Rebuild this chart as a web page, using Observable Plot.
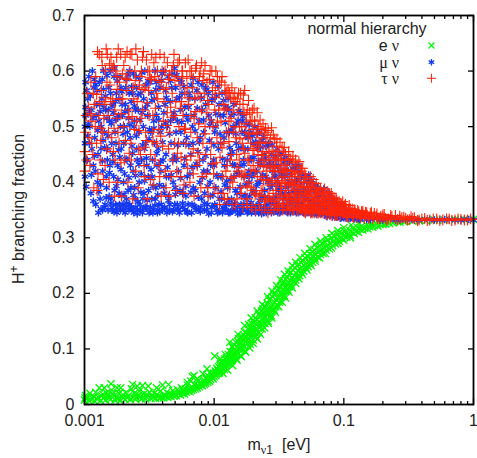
<!DOCTYPE html>
<html><head><meta charset="utf-8">
<style>html,body{margin:0;padding:0;background:#fff}svg{display:block}</style>
<script src="https://cdn.jsdelivr.net/npm/d3@7"></script>
<script src="https://cdn.jsdelivr.net/npm/@observablehq/plot@0.6"></script>
</head><body><div id="c"></div>
<script>
const majorX=[0.001,0.01,0.1,1];
const minorX=[.002,.003,.004,.005,.006,.007,.008,.009,.02,.03,.04,.05,.06,.07,.08,.09,.2,.3,.4,.5,.6,.7,.8,.9];
const yTicks=[0,.1,.2,.3,.4,.5,.6,.7];
const legendNames=["e ν","μ ν","τ ν"];
const legendY=[.646,.616,.587];
const legendX=.474;
const colors=["#00f800","#1438f0","#ff2408"];
const ePoints=[[.001,.008],[.00102,.016],[.00105,.012],[.0011,.02],[.00112,.009],[.00118,.014],[.00122,.022],[.00125,.01],[.0013,.03],[.00135,.016],[.0014,.011],[.00142,.03],[.00148,.021],[.00155,.012],[.0016,.037],[.00162,.026],[.0017,.016],[.00175,.012],[.00178,.03],[.00185,.02],[.0019,.03],[.00195,.014],[.002,.012],[.0021,.022],[.00218,.015],[.0023,.028],[.00235,.036],[.00242,.02],[.0025,.013],[.00255,.033],[.00265,.024],[.0027,.014],[.0028,.034],[.0029,.02],[.003,.014],[.0031,.033],[.00318,.022],[.0033,.016],[.00345,.02],[.0036,.03],[.00372,.015],[.00385,.024],[.004,.035],[.00415,.017],[.0043,.022],[.00445,.036],[.00455,.016],[.0048,.025],[.005,.018],[.0052,.027],[.0054,.021],[.0056,.03],[.0058,.024],[.006,.028],[.0062,.035],[.0064,.027],[.0066,.042],[.0068,.031],[.007,.052],[.0071,.036],[.0073,.032],[.0076,.044],[.0078,.038],[.008,.037],[.0082,.055],[.0085,.042],[.0088,.048],[.009,.043],[.0093,.058],[.0096,.05],[.0098,.046],[.0101,.087],[.0103,.052],[.0106,.062],[.011,.057],[.0112,.073],[.0115,.065],[.0118,.07],[.012,.063],[.0122,.076],[.0125,.072],[.0128,.08],[.013,.074],[.0132,.112],[.0134,.086],[.0136,.078],[.0138,.094],[.014,.084],[.0143,.098],[.0145,.09],[.0148,.082],[.015,.104],[.0153,.092],[.0155,.118],[.0158,.1],[.016,.088],[.0163,.113],[.0165,.098],[.0168,.125],[.017,.104],[.0173,.096],[.0176,.122],[.018,.11],[.0183,.136],[.0186,.118],[.019,.108],[.0193,.138],[.0196,.126],[.02,.116],[.0203,.148],[.0206,.13],[.021,.122],[.0214,.152],[.0218,.14],[.0222,.13],[.0226,.16],[.023,.146],[.0234,.136],[.0238,.172],[.0242,.158],[.0246,.146],[.025,.176],[.0255,.162],[.026,.15],[.0265,.188],[.027,.172],[.0275,.16],[.028,.194],[.0285,.18],[.029,.17],[.0296,.2],[.0302,.188],[.0308,.178],[.0315,.208],[.032,.196],[.0328,.186],[.0335,.218],[.034,.205],[.0348,.196],[.0355,.226],[.0362,.214],[.037,.206],[.0378,.234],[.0386,.224],[.0395,.215],[.0405,.242],[.0415,.232],[.0425,.224],[.0435,.25],[.0445,.24],[.0455,.232],[.0465,.256],[.0478,.247],[.049,.24],[.05,.264],[.0515,.255],[.053,.248],[.0545,.271],[.056,.262],[.0575,.256],[.059,.278],[.061,.27],[.063,.265],[.065,.285],[.067,.278],[.069,.272],[.072,.292],[.074,.285],[.077,.28],[.08,.3],[.083,.293],[.086,.289],[.09,.306],[.094,.3],[.098,.297],[.102,.311],[.107,.306],[.112,.304],[.118,.317],[.124,.312],[.13,.31],[.137,.321],[.145,.317],[.153,.316],[.162,.325],[.172,.322],[.183,.321],[.195,.327],[.21,.325],[.225,.326],[.245,.329],[.27,.328],[.3,.33],[.34,.33],[.38,.331],[.43,.331],[.5,.332],[.6,.332],[.72,.333],[.85,.333],[1,.333]];
const eExtra=[[.00101,.012],[.00108,.007],[.00115,.011],[.0012,.006],[.00128,.013],[.00133,.007],[.00139,.018],[.00145,.008],[.00152,.016],[.00158,.009],[.00165,.019],[.00172,.008],[.00182,.011],[.00188,.007],[.00198,.018],[.00205,.009],[.00213,.012],[.00225,.009],[.00238,.013],[.00248,.009],[.0026,.017],[.00275,.01],[.00285,.013],[.00295,.01],[.00305,.018],[.00325,.011],[.00338,.013],[.00352,.011],[.00365,.018],[.00378,.012],[.00392,.013],[.00408,.012],[.00422,.016],[.00438,.013],[.00448,.019],[.00465,.014],[.00475,.018],[.0049,.015],[.0051,.016],[.0053,.019],[.0055,.017],[.0057,.02],[.0059,.019],[.0061,.022],[.0063,.024],[.0065,.023],[.0067,.026],[.0069,.027],[.0072,.028],[.0074,.03],[.0075,.034],[.0077,.032],[.0079,.035],[.0081,.034],[.0083,.04],[.0084,.036],[.0086,.038],[.0087,.046],[.0089,.04],[.0091,.05],[.0092,.042],[.0094,.045],[.0095,.054],[.0097,.048],[.0099,.056],[.01,.05],[.0102,.06],[.0104,.055],[.0105,.065],[.0107,.056],[.0108,.068],[.0109,.06],[.0111,.07],[.0113,.062],[.0114,.077],[.0116,.064],[.0117,.074],[.0119,.068],[.0121,.082],[.0123,.07],[.0124,.085],[.0127,.074],[.0129,.09],[.0131,.08],[.0133,.095],[.0135,.082],[.0137,.088],[.0139,.104],[.0141,.09],[.0142,.108],[.0144,.094],[.0147,.112],[.0149,.096],[.0152,.114],[.0154,.1],[.0157,.11],[.0159,.12],[.0161,.104],[.0164,.122],[.0166,.108],[.0169,.116],[.0172,.13],[.0174,.112],[.0177,.13],[.0179,.116],[.0181,.126],[.0184,.144],[.0188,.128],[.0191,.124],[.0194,.146],[.0198,.132],[.0201,.138],[.0204,.124],[.0208,.156],[.0212,.136],[.0216,.146],[.022,.162],[.0224,.148],[.0228,.14],[.0232,.168],[.0236,.15],[.024,.164],[.0244,.176],[.0248,.158],[.0252,.152],[.0257,.182],[.0262,.166],[.0268,.158],[.0272,.19],[.0278,.178],[.0283,.17],[.0288,.198],[.0293,.184],[.0299,.176],[.0305,.206],[.0311,.192],[.0318,.184],[.0325,.212],[.0331,.2],[.0338,.194],[.0344,.222],[.0352,.21],[.0358,.204],[.0366,.228],[.0374,.218],[.0382,.212],[.039,.238],[.04,.228],[.041,.222],[.042,.246],[.043,.236],[.044,.23],[.045,.252],[.046,.244],[.047,.238],[.048,.258],[.0495,.25],[.051,.246],[.0525,.266],[.054,.258],[.055,.254],[.057,.274],[.058,.268],[.06,.262],[.062,.282],[.064,.275],[.066,.27],[.068,.29],[.07,.282],[.073,.278],[.075,.296],[.078,.29],[.082,.286],[.085,.303],[.088,.297],[.092,.294],[.096,.308],[.1,.304],[.105,.301],[.11,.314],[.115,.31],[.12,.308],[.127,.319],[.134,.315],[.14,.314],[.15,.323],[.158,.32],[.167,.319],[.178,.326],[.19,.324],[.2,.324],[.22,.328],[.24,.327],[.26,.329],[.29,.329]];
const eEdge=[[.0117,.056],[.0127,.062],[.0139,.07],[.015,.08],[.0162,.086],[.0175,.094],[.0188,.102],[.02,.11],[.0215,.118],[.0228,.126],[.0245,.138],[.0262,.146],[.0278,.156],[.0296,.166],[.0315,.176],[.0335,.184],[.0355,.192],[.0378,.202],[.04,.21],[.0425,.218],[.045,.226],[.048,.234],[.052,.242],[.056,.25],[.06,.258],[.065,.264],[.072,.272],[.08,.282],[.09,.29],[.1,.296],[.112,.3],[.0153,.126],[.0172,.142],[.0193,.156],[.0215,.168],[.0235,.18],[.0258,.194],[.028,.204],[.0303,.214],[.0326,.224],[.035,.234],[.0372,.24],[.04,.25],[.0425,.256],[.046,.264],[.05,.272],[.055,.28],[.06,.288],[.066,.294],[.073,.3],[.081,.308],[.09,.313],[.1,.318],[.114,.323],[.13,.326],[.0112,.082],[.0122,.09],[.0137,.104],[.0074,.046],[.0062,.04],[.0068,.05],[.0088,.064]];
const muPoints=[[.00101,.41],[.00101,.47],[.00102,.52],[.00102,.58],[.00105,.44],[.00106,.55],[.00108,.59],[.0011,.5],[.00112,.38],[.00113,.53],[.00115,.6],[.00117,.43],[.00118,.57],[.0012,.48],[.00122,.36],[.00124,.54],[.00126,.4],[.00128,.345],[.00129,.51],[.0013,.58],[.00132,.37],[.00134,.46],[.00136,.55],[.00138,.35],[.00138,.42],[.0014,.6],[.00142,.49],[.00144,.36],[.00146,.53],[.00148,.39],[.0015,.44],[.00152,.35],[.00154,.57],[.00156,.51],[.00158,.6],[.0016,.37],[.00162,.47],[.00164,.35],[.00166,.54],[.00168,.41],[.0017,.605],[.00172,.49],[.00174,.36],[.00176,.56],[.00178,.345],[.0018,.43],[.00183,.52],[.00185,.38],[.00188,.59],[.0019,.35],[.00192,.46],[.00195,.54],[.00198,.36],[.002,.4],[.00203,.5],[.00206,.345],[.00208,.57],[.0021,.37],[.00213,.44],[.00216,.53],[.0022,.35],[.00222,.6],[.00225,.48],[.00228,.39],[.0023,.355],[.00234,.56],[.00237,.42],[.0024,.345],[.00243,.51],[.00246,.37],[.0025,.59],[.00253,.46],[.00256,.35],[.0026,.53],[.00264,.4],[.00268,.36],[.00272,.56],[.00276,.44],[.0028,.345],[.00284,.5],[.00288,.38],[.00292,.6],[.00296,.47],[.003,.355],[.00305,.54],[.0031,.41],[.00315,.345],[.0032,.58],[.00325,.49],[.0033,.37],[.00335,.44],[.0034,.35],[.00345,.55],[.0035,.6],[.00355,.39],[.0036,.52],[.00365,.345],[.0037,.46],[.00376,.36],[.00382,.57],[.00388,.42],[.00394,.5],[.004,.35],[.00406,.6],[.00412,.38],[.00418,.54],[.00425,.45],[.00432,.345],[.0044,.59],[.00447,.41],[.00455,.36],[.00462,.51],[.0047,.57],[.00478,.44],[.00486,.35],[.00494,.605],[.005,.39],[.00508,.49],[.00515,.55],[.0052,.36],[.0053,.42],[.0054,.345],[.0055,.53],[.0056,.58],[.0057,.38],[.0058,.47],[.00595,.35],[.0061,.52],[.0062,.41],[.0063,.36],[.0064,.56],[.0066,.45],[.0067,.345],[.0068,.5],[.0069,.39],[.0071,.55],[.0072,.355],[.0074,.43],[.0075,.58],[.0076,.35],[.0078,.48],[.008,.37],[.0081,.53],[.0083,.42],[.0084,.35],[.0086,.57],[.0088,.46],[.0089,.36],[.0091,.52],[.0093,.4],[.0095,.345],[.0097,.55],[.0099,.44],[.0101,.36],[.0103,.5],[.0105,.35],[.0107,.41],[.0109,.54],[.0112,.47],[.0114,.37],[.0116,.345],[.0118,.52],[.012,.43],[.0123,.35],[.0125,.49],[.0127,.39],[.013,.53],[.0132,.345],[.0134,.45],[.0137,.36],[.014,.5],[.0142,.41],[.0145,.35],[.0148,.47],[.015,.38],[.0153,.51],[.0156,.345],[.0158,.43],[.0161,.36],[.0164,.49],[.0167,.35],[.017,.41],[.0173,.46],[.0176,.37],[.018,.345],[.0183,.48],[.0186,.4],[.019,.36],[.0193,.44],[.0197,.35],[.02,.47],[.0204,.38],[.0208,.345],[.0212,.42],[.0216,.46],[.022,.36],[.0224,.4],[.0228,.35],[.0232,.44],[.0236,.37],[.024,.345],[.0245,.45],[.025,.41],[.0255,.36],[.026,.35],[.0265,.43],[.027,.39],[.0276,.345],[.0282,.42],[.0288,.37],[.0294,.35],[.03,.44],[.0307,.4],[.0314,.36],[.032,.345],[.0328,.42],[.0336,.38],[.0344,.35],[.0352,.41],[.036,.37],[.037,.345],[.038,.4],[.039,.36],[.04,.35],[.041,.395],[.042,.37],[.043,.345],[.044,.385],[.045,.36],[.046,.35],[.047,.38],[.049,.345],[.05,.375],[.052,.355],[.054,.37],[.056,.343],[.058,.365],[.06,.35],[.062,.342],[.065,.36],[.068,.345],[.071,.355],[.074,.34],[.078,.35],[.082,.342],[.086,.347],[.09,.338],[.095,.344],[.1,.336],[.105,.341],[.112,.335],[.12,.339],[.13,.334],[.14,.337],[.15,.333],[.17,.335],[.19,.332],[.21,.334],[.25,.332],[.3,.333],[.35,.332],[.42,.333],[.5,.332],[.6,.333],[.72,.332],[.85,.333],[1,.332]];
const muExtra=[[.00101,.5],[.00102,.535],[.00103,.44],[.00104,.565],[.00107,.505],[.00109,.47],[.00111,.555],[.00114,.46],[.00116,.515],[.00119,.585],[.00121,.42],[.00123,.52],[.00125,.565],[.00127,.45],[.00131,.54],[.00133,.395],[.00135,.5],[.00137,.585],[.00139,.475],[.00141,.535],[.00143,.355],[.00145,.555],[.00147,.41],[.00149,.515],[.00151,.46],[.00153,.53],[.00155,.375],[.00157,.43],[.00159,.56],[.00161,.505],[.00163,.355],[.00165,.45],[.00167,.525],[.00169,.59],[.00171,.385],[.00173,.545],[.00175,.47],[.00177,.35],[.00179,.515],[.00181,.405],[.00184,.55],[.00186,.36],[.00187,.445],[.00189,.5],[.00191,.57],[.00193,.375],[.00196,.52],[.00199,.35],[.00201,.47],[.00204,.415],[.00207,.54],[.00209,.355],[.00211,.585],[.00214,.49],[.00217,.385],[.00219,.515],[.00221,.56],[.00223,.36],[.00226,.43],[.00229,.545],[.00232,.465],[.00235,.35],[.00238,.595],[.00241,.5],[.00244,.39],[.00247,.53],[.00249,.355],[.00252,.57],[.00255,.44],[.00258,.365],[.00262,.49],[.00266,.585],[.0027,.35],[.00274,.415],[.00278,.525],[.00282,.37],[.00286,.55],[.0029,.46],[.00294,.355],[.00298,.575],[.00302,.43],[.00307,.52],[.00312,.385],[.00317,.495],[.00322,.355],[.00327,.56],[.00332,.41],[.00337,.345],[.00342,.51],[.00348,.47],[.00352,.37],[.00358,.58],[.00362,.43],[.00368,.35],[.00373,.535],[.00379,.395],[.00385,.49],[.00391,.36],[.00397,.595],[.00403,.44],[.00409,.525],[.00415,.355],[.00422,.565],[.00428,.41],[.00435,.5],[.00443,.375],[.0045,.35],[.00458,.545],[.00465,.47],[.00473,.595],[.00482,.4],[.0049,.525],[.00497,.36],[.00505,.57],[.00512,.44],[.0052,.51],[.00527,.35],[.00535,.585],[.00545,.385],[.00553,.49],[.00565,.56],[.00575,.355],[.00585,.43],[.00592,.535],[.00605,.375],[.00615,.48],[.00625,.345],[.00635,.535],[.0065,.415],[.00665,.575],[.00675,.36],[.00685,.47],[.007,.52],[.00715,.385],[.00725,.35],[.00735,.565],[.0075,.455],[.00765,.51],[.00775,.4],[.0079,.355],[.00805,.575],[.0082,.44],[.0083,.49],[.00845,.38],[.0086,.54],[.00875,.35],[.0089,.42],[.00905,.56],[.0092,.475],[.00935,.375],[.0095,.51],[.0096,.355],[.0098,.58],[.01,.43],[.0101,.49],[.0103,.39],[.0104,.555],[.0106,.345],[.0108,.46],[.011,.37],[.0111,.52],[.0113,.41],[.0115,.56],[.0117,.355],[.0119,.48],[.0121,.395],[.0122,.535],[.0124,.36],[.0126,.44],[.0128,.55],[.0129,.345],[.0131,.49],[.0133,.405],[.0135,.52],[.0136,.37],[.0138,.455],[.014,.35],[.0142,.54],[.0144,.43],[.0146,.385],[.0149,.505],[.0151,.355],[.0154,.46],[.0156,.415],[.0159,.525],[.016,.345],[.0163,.375],[.0165,.51],[.0168,.44],[.017,.36],[.0172,.49],[.0175,.395],[.0178,.505],[.018,.35],[.0182,.46],[.0185,.42],[.0188,.375],[.0191,.49],[.0194,.345],[.0196,.41],[.02,.385],[.0203,.445],[.0206,.5],[.021,.355],[.0213,.47],[.0217,.4],[.022,.345],[.0223,.49],[.0227,.43],[.023,.375],[.0234,.475],[.0238,.41],[.0241,.355],[.0245,.385],[.0248,.465],[.0252,.345],[.0256,.43],[.026,.4],[.0263,.47],[.0268,.37],[.0272,.35],[.0276,.45],[.028,.395],[.0285,.43],[.029,.36],[.0295,.41],[.03,.375],[.0305,.46],[.031,.345],[.0314,.43],[.0318,.39],[.0323,.355],[.033,.45],[.0334,.41],[.0338,.37],[.0344,.435],[.035,.35],[.0354,.39],[.0358,.445],[.0364,.36],[.037,.415],[.0376,.38],[.0382,.435],[.0388,.345],[.0394,.4],[.04,.37],[.0405,.425],[.0412,.35],[.0418,.385],[.0424,.43],[.043,.365],[.0436,.405],[.0444,.345],[.045,.42],[.0456,.38],[.0462,.36],[.047,.41],[.048,.347],[.049,.39],[.05,.37],[.051,.41],[.052,.345],[.053,.385],[.054,.355],[.055,.4],[.056,.365],[.057,.345],[.058,.385],[.06,.36],[.061,.395],[.062,.35],[.064,.375],[.065,.345],[.067,.385],[.069,.355],[.07,.37],[.072,.345],[.074,.375],[.076,.352],[.078,.34],[.08,.365],[.083,.35],[.086,.338],[.089,.36],[.092,.345],[.096,.336],[.1,.352],[.104,.343],[.109,.335],[.114,.347],[.12,.334],[.126,.342],[.133,.333],[.14,.343],[.15,.339],[.16,.333],[.18,.337],[.2,.332],[.23,.335],[.27,.332],[.33,.334],[.38,.332],[.46,.333],[.55,.332],[.65,.333],[.8,.332],[.92,.333]];
const muFill=[[.00103,.392],[.00106,.483],[.00109,.527],[.00113,.413],[.00117,.366],[.00119,.447],[.00122,.576],[.00126,.493],[.00129,.383],[.00132,.527],[.00134,.352],[.00137,.438],[.0014,.567],[.00143,.462],[.00147,.372],[.00149,.592],[.00152,.483],[.00156,.417],[.00159,.362],[.00163,.537],[.00166,.437],[.00169,.347],[.00173,.513],[.00176,.393],[.00179,.582],[.00183,.458],[.00187,.357],[.00191,.423],[.00194,.563],[.00198,.487],[.00202,.378],[.00205,.527],[.00209,.442],[.00212,.362],[.00216,.593],[.0022,.408],[.00224,.503],[.00228,.352],[.00231,.572],[.00235,.452],[.00239,.377],[.00243,.537],[.00247,.412],[.00251,.483],[.00255,.343],[.00259,.557],[.00263,.432],[.00268,.512],[.00272,.382],[.00277,.597],[.00281,.467],[.00286,.353],[.0029,.402],[.00295,.533],[.003,.443],[.00305,.367],[.0031,.582],[.00315,.478],[.0032,.347],[.00326,.423],[.00331,.547],[.00337,.393],[.00343,.497],[.00349,.358],[.00355,.567],[.00361,.452],[.00367,.377],[.00373,.512],[.0038,.347],[.00387,.437],[.00393,.583],[.004,.472],[.00407,.392],[.00414,.352],[.00421,.507],[.00428,.552],[.00436,.427],[.00444,.367],[.00452,.487],[.0046,.582],[.00468,.413],[.00477,.347],[.00485,.517],[.00494,.447],[.00503,.378],[.00512,.593],[.00522,.467],[.00531,.352],[.00541,.553],[.00551,.407],[.00561,.508],[.00572,.362],[.00582,.572],[.00593,.443],[.00604,.393],[.00615,.347],[.00627,.512],[.00638,.467],[.0065,.552],[.00662,.382],[.00675,.427],[.00687,.587],[.007,.357],[.00713,.492],[.00726,.433],[.0074,.533],[.00754,.373],[.00768,.472],[.00782,.347],[.00797,.552],[.00812,.408],[.00827,.512],[.00842,.362],[.00858,.447],[.00874,.567],[.0089,.393],[.00907,.343],[.00924,.502],[.00941,.432],[.00959,.547],[.00977,.377],[.00995,.467],[.0101,.357],[.0103,.523],[.0105,.413],[.0107,.572],[.0109,.347],[.0111,.487],[.0113,.383],[.0116,.442],[.0118,.547],[.012,.352],[.0122,.507],[.0125,.402],[.0127,.533],[.0129,.367],[.0132,.462],[.0134,.347],[.0137,.493],[.0139,.432],[.0142,.523],[.0144,.362],[.0147,.487],[.015,.417],[.0152,.343],[.0155,.528],[.0158,.392],[.0161,.462],[.0164,.352],[.0167,.518],[.017,.432],[.0173,.377],[.0176,.482],[.018,.412],[.0183,.347],[.0186,.503],[.019,.442],[.0193,.363],[.0197,.483],[.02,.417],[.0204,.353],[.0208,.472],[.0212,.393],[.0216,.487],[.022,.437],[.0224,.367],[.0228,.463],[.0232,.343],[.0237,.413],[.0241,.482],[.0246,.373],[.025,.442],[.0255,.352],[.026,.467],[.0265,.403],[.027,.438],[.0275,.362],[.028,.467],[.0286,.347],[.0291,.412],[.0297,.447],[.0302,.358],[.0308,.427],[.0314,.385],[.032,.452],[.0326,.347],[.0332,.413],[.0338,.377],[.0345,.442],[.0351,.358],[.0358,.423],[.0365,.347],[.0372,.393],[.0379,.437],[.0386,.367],[.0394,.412],[.0401,.347],[.0409,.383],[.0417,.427],[.0425,.358],[.0433,.402],[.0441,.375],[.045,.43],[.0459,.347],[.0467,.398],[.0476,.363],[.0485,.412],[.0495,.383],[.0505,.343],[.0515,.4],[.0525,.367],[.0535,.413],[.0545,.347],[.0555,.385],[.0566,.403],[.0577,.357],[.0588,.392],[.06,.343],[.0612,.375],[.0624,.39],[.0636,.352],[.0648,.383],[.0661,.362],[.0674,.343],[.0687,.378],[.07,.388],[.0714,.355],[.0728,.368],[.0742,.338],[.0757,.362],[.0772,.38],[.0787,.347],[.0802,.372],[.0818,.338],[.0834,.36],[.085,.368],[.0867,.35],[.0884,.337],[.0901,.358],[.0919,.35],[.0937,.335],[.0956,.36],[.0975,.345],[.0994,.337],[.102,.35],[.104,.335],[.107,.345],[.11,.351],[.113,.336],[.117,.343],[.121,.348],[.125,.334],[.13,.342]];
const tauPoints=[[.00101,.455],[.00101,.42],[.00103,.52],[.00105,.56],[.00108,.48],[.0011,.43],[.00112,.58],[.00114,.51],[.00116,.45],[.00118,.39],[.0012,.54],[.00122,.59],[.00124,.47],[.00125,.385],[.00126,.635],[.00128,.52],[.0013,.63],[.00132,.44],[.00135,.565],[.00136,.625],[.00138,.49],[.0014,.405],[.00142,.54],[.00145,.6],[.00147,.64],[.00148,.46],[.0015,.63],[.00152,.52],[.00155,.4],[.00157,.575],[.0016,.625],[.00162,.48],[.00165,.55],[.00168,.61],[.0017,.375],[.00172,.44],[.00174,.6],[.00176,.515],[.00178,.59],[.0018,.4],[.00182,.64],[.00185,.47],[.00188,.55],[.0019,.63],[.00193,.375],[.00196,.595],[.002,.5],[.00203,.44],[.00206,.625],[.0021,.565],[.00213,.635],[.00216,.4],[.0022,.53],[.00224,.6],[.00228,.47],[.00232,.63],[.00236,.37],[.0024,.55],[.00244,.6],[.00248,.42],[.00252,.51],[.00256,.62],[.0026,.39],[.00265,.575],[.0027,.45],[.00275,.6],[.0028,.53],[.00285,.635],[.0029,.41],[.00296,.49],[.003,.62],[.00306,.37],[.00312,.565],[.00318,.6],[.00324,.45],[.0033,.63],[.00336,.52],[.00342,.395],[.00348,.59],[.00355,.625],[.0036,.47],[.00367,.55],[.00375,.43],[.00382,.63],[.0039,.375],[.00397,.6],[.00405,.51],[.00412,.625],[.0042,.42],[.00428,.57],[.00436,.615],[.00445,.46],[.00453,.375],[.00462,.535],[.0047,.6],[.0048,.44],[.0049,.63],[.005,.52],[.0051,.385],[.0052,.59],[.0053,.47],[.0054,.62],[.0055,.41],[.0056,.545],[.0057,.6],[.0058,.38],[.0059,.495],[.006,.615],[.0061,.44],[.0062,.57],[.0063,.62],[.0065,.4],[.0066,.52],[.0067,.6],[.0069,.46],[.007,.375],[.0071,.55],[.0073,.61],[.0074,.43],[.0076,.505],[.0077,.59],[.0079,.39],[.008,.615],[.0082,.47],[.0084,.56],[.0085,.61],[.0087,.415],[.0088,.525],[.009,.375],[.0092,.585],[.0094,.45],[.0096,.6],[.0098,.5],[.01,.39],[.0102,.57],[.0104,.435],[.0106,.59],[.0108,.53],[.011,.36],[.0112,.47],[.0114,.58],[.0116,.41],[.0118,.54],[.012,.37],[.0122,.56],[.0124,.49],[.0126,.43],[.0128,.565],[.013,.51],[.0132,.39],[.0134,.55],[.0136,.45],[.0138,.36],[.014,.53],[.0143,.41],[.0145,.545],[.0148,.48],[.015,.37],[.0153,.525],[.0156,.44],[.0158,.54],[.016,.39],[.0163,.5],[.0166,.355],[.0168,.46],[.017,.525],[.0173,.415],[.0176,.505],[.018,.37],[.0183,.48],[.0186,.44],[.019,.51],[.0193,.39],[.0196,.355],[.02,.495],[.0203,.46],[.0207,.42],[.021,.38],[.0214,.49],[.0218,.45],[.0222,.36],[.0226,.47],[.023,.41],[.0234,.48],[.0238,.385],[.0242,.44],[.0246,.355],[.025,.47],[.0255,.42],[.026,.37],[.0265,.455],[.027,.4],[.0275,.35],[.028,.445],[.0285,.38],[.029,.42],[.0295,.36],[.03,.45],[.0305,.4],[.031,.37],[.0315,.43],[.032,.35],[.0325,.39],[.033,.44],[.0335,.37],[.034,.41],[.0345,.355],[.035,.43],[.0356,.385],[.036,.35],[.0366,.42],[.0372,.37],[.038,.4],[.0386,.355],[.0392,.385],[.04,.415],[.0406,.365],[.0412,.35],[.042,.395],[.0426,.375],[.0434,.35],[.0442,.4],[.045,.37],[.0458,.385],[.0466,.352],[.0475,.39],[.0484,.365],[.0494,.347],[.05,.38],[.051,.36],[.052,.375],[.053,.35],[.054,.37],[.055,.383],[.056,.357],[.057,.345],[.058,.365],[.0595,.377],[.061,.352],[.0625,.367],[.064,.345],[.065,.36],[.067,.372],[.069,.35],[.071,.362],[.073,.342],[.075,.355],[.077,.365],[.08,.345],[.082,.358],[.085,.34],[.088,.352],[.09,.36],[.093,.342],[.097,.35],[.1,.355],[.104,.34],[.108,.347],[.112,.352],[.117,.338],[.122,.345],[.128,.349],[.134,.337],[.14,.343],[.147,.346],[.155,.336],[.163,.341],[.172,.344],[.182,.335],[.193,.339],[.205,.342],[.22,.334],[.235,.338],[.25,.34],[.27,.334],[.29,.337],[.32,.333],[.35,.336],[.38,.332],[.42,.335],[.46,.332],[.52,.334],[.58,.332],[.65,.334],[.72,.332],[.8,.333],[.9,.332],[1,.333]];
const tauExtra=[[.00102,.49],[.00104,.44],[.00107,.535],[.00113,.47],[.00117,.56],[.00121,.5],[.00127,.415],[.00131,.545],[.00134,.475],[.00137,.61],[.00141,.515],[.00144,.43],[.00149,.58],[.00153,.49],[.00159,.545],[.00163,.605],[.00167,.455],[.00171,.53],[.00177,.625],[.00181,.49],[.00186,.58],[.00191,.435],[.00197,.55],[.00201,.61],[.00207,.475],[.00212,.585],[.00218,.515],[.00225,.63],[.0023,.44],[.00237,.57],[.00243,.495],[.00249,.64],[.00255,.545],[.00262,.46],[.00268,.59],[.00273,.515],[.0028,.625],[.00288,.43],[.00293,.57],[.003,.475],[.00308,.6],[.00315,.52],[.00322,.405],[.00328,.585],[.00335,.49],[.00343,.615],[.0035,.44],[.00358,.56],[.00365,.6],[.00373,.495],[.0038,.41],[.0039,.58],[.004,.465],[.0041,.545],[.00418,.6],[.00425,.39],[.00435,.525],[.00445,.585],[.00455,.49],[.00465,.41],[.00475,.56],[.00485,.61],[.00495,.47],[.00505,.545],[.00515,.42],[.00525,.615],[.00535,.5],[.00545,.575],[.00555,.445],[.00565,.6],[.00575,.52],[.00585,.395],[.00595,.56],[.00605,.47],[.00615,.59],[.00625,.425],[.00635,.54],[.0065,.6],[.0066,.49],[.0068,.57],[.0069,.415],[.007,.515],[.0072,.605],[.0074,.48],[.0075,.56],[.0077,.44],[.0078,.6],[.008,.53],[.0081,.41],[.0083,.595],[.0085,.5],[.0086,.45],[.0088,.58],[.0089,.39],[.0091,.54],[.0093,.6],[.0095,.47],[.0097,.565],[.0099,.415],[.0101,.53],[.0103,.6],[.0105,.48],[.0107,.38],[.0109,.56],[.0111,.445],[.0113,.51],[.0115,.59],[.0117,.38],[.0119,.47],[.0121,.575],[.0123,.42],[.0125,.53],[.0127,.37],[.0129,.49],[.0131,.56],[.0133,.44],[.0135,.515],[.0137,.57],[.0139,.4],[.0141,.49],[.0144,.56],[.0146,.36],[.0149,.45],[.0151,.55],[.0154,.42],[.0157,.5],[.016,.56],[.0162,.38],[.0165,.47],[.0167,.54],[.017,.41],[.0172,.565],[.0175,.49],[.0178,.36],[.018,.53],[.0182,.44],[.0185,.4],[.0188,.525],[.0191,.47],[.0194,.355],[.0197,.53],[.02,.43],[.0202,.385],[.0205,.51],[.0209,.35],[.0212,.465],[.0215,.41],[.0219,.5],[.0223,.375],[.0226,.435],[.023,.495],[.0233,.35],[.0237,.455],[.024,.405],[.0244,.49],[.0248,.37],[.0252,.43],[.0256,.485],[.026,.345],[.0263,.44],[.0268,.395],[.0272,.48],[.0277,.365],[.0282,.425],[.0286,.485],[.029,.35],[.0294,.44],[.0298,.395],[.0303,.465],[.0308,.355],[.0312,.42],[.0317,.455],[.0322,.375],[.0327,.44],[.0332,.4],[.0338,.35],[.0342,.455],[.0348,.375],[.0353,.41],[.0358,.44],[.0363,.36],[.0369,.395],[.0375,.44],[.0382,.35],[.0388,.42],[.0394,.37],[.04,.395],[.0404,.435],[.041,.35],[.0415,.38],[.0422,.41],[.0428,.36],[.0436,.43],[.0444,.38],[.045,.35],[.0455,.41],[.046,.365],[.047,.42],[.048,.35],[.049,.4],[.05,.36],[.0505,.41],[.0515,.35],[.0525,.39],[.0535,.36],[.0545,.4],[.0555,.345],[.0565,.375],[.0575,.39],[.0585,.35],[.06,.37],[.0615,.385],[.063,.355],[.0645,.38],[.066,.345],[.068,.365],[.07,.38],[.072,.35],[.074,.37],[.076,.38],[.078,.342],[.081,.362],[.083,.348],[.087,.37],[.089,.34],[.092,.355],[.095,.362],[.099,.345],[.102,.358],[.106,.338],[.11,.352],[.115,.344],[.12,.35],[.125,.336],[.131,.342],[.137,.347],[.144,.335],[.151,.34],[.16,.344],[.168,.334],[.178,.339],[.188,.334],[.2,.337],[.215,.332],[.23,.336],[.26,.333],[.28,.336],[.31,.332],[.34,.335],[.37,.331],[.4,.334],[.44,.331],[.49,.334],[.55,.331],[.62,.334],[.68,.331],[.76,.334],[.85,.332],[.95,.334]];
const tauFill=[[.00112,.523],[.00124,.558],[.00133,.497],[.00146,.552],[.00156,.613],[.00169,.497],[.00179,.567],[.00192,.523],[.00208,.587],[.00221,.452],[.00233,.518],[.00246,.583],[.00263,.493],[.00278,.567],[.00291,.463],[.00304,.543],[.0032,.588],[.00338,.473],[.00352,.533],[.00371,.583],[.00387,.483],[.00408,.567],[.0043,.502],[.00451,.593],[.00472,.517],[.00498,.583],[.00522,.452],[.00548,.533],[.00572,.587],[.006,.497],[.0063,.552],[.0066,.447],[.0069,.587],[.0072,.527],[.0075,.453],[.0078,.553],[.0082,.583],[.0085,.487],[.0089,.547],[.0093,.512],[.0097,.433],[.0102,.553],[.0106,.507],[.011,.582],[.0115,.462],[.012,.533],[.0125,.562],[.013,.473],[.0135,.407],[.014,.553],[.0145,.5],[.015,.427],[.0154,.56],[.0158,.478],[.0163,.413],[.0168,.557],[.0172,.452],[.0177,.522],[.018,.393],[.0184,.547],[.0188,.487],[.0192,.422],[.0196,.512],[.0199,.457],[.0203,.533],[.0207,.377],[.0211,.487],[.0215,.525],[.0218,.43],[.0222,.472],[.0226,.512],[.023,.385],[.0234,.448],[.0238,.505],[.0241,.428],[.0245,.366],[.0249,.497],[.0253,.452],[.0257,.403],[.0261,.493],[.0265,.375],[.0269,.472],[.0273,.428],[.0277,.498],[.0281,.407],[.0285,.458],[.0289,.366],[.0293,.478],[.0297,.428],[.0301,.385],[.0305,.478],[.031,.443],[.0314,.403],[.0318,.357],[.0322,.472],[.0326,.418],[.033,.385],[.0334,.462],[.0339,.425],[.0343,.362],[.0347,.463],[.0351,.398],[.0355,.45],[.036,.375],[.0365,.423],[.037,.36],[.0375,.455],[.038,.398],[.0384,.377],[.0389,.442],[.0394,.405],[.04,.352],[.0405,.447],[.041,.395],[.0415,.42],[.042,.368],[.0425,.44],[.043,.385],[.0435,.355],[.044,.418],[.0445,.395],[.045,.437],[.0455,.368],[.046,.4],[.0465,.425],[.047,.352],[.0476,.38],[.0482,.425],[.0488,.358],[.0494,.392],[.05,.415],[.0506,.345],[.0512,.378],[.0518,.405],[.0525,.358],[.0532,.392],[.0538,.348],[.0545,.378],[.0552,.41],[.0559,.355],[.0566,.395],[.0574,.365],[.0581,.405],[.0589,.345],[.0596,.385],[.0604,.358],[.0612,.398],[.062,.345],[.0628,.378],[.0637,.39],[.0645,.36],[.0653,.347],[.0662,.388],[.0672,.36],[.0681,.38],[.069,.345],[.07,.37],[.071,.388],[.072,.358],[.073,.375],[.074,.343],[.075,.383],[.076,.362],[.077,.345],[.078,.375],[.079,.355],[.08,.38],[.081,.34],[.082,.37],[.083,.352],[.084,.372],[.085,.345],[.086,.362],[.087,.342],[.088,.368],[.089,.352],[.09,.347],[.092,.365],[.094,.34],[.096,.358],[.098,.365],[.1,.343],[.103,.36],[.105,.352],[.108,.337],[.11,.358],[.113,.345],[.116,.352],[.119,.337],[.122,.35],[.126,.342],[.13,.347],[.135,.337],[.14,.348],[.145,.34],[.15,.345],[.156,.335],[.163,.346],[.17,.338],[.18,.343],[.19,.336],[.2,.341],[.21,.335],[.23,.34],[.25,.336],[.27,.339],[.3,.335],[.33,.338]];

const rows=a=>a.map(([x,y])=>({x,y}));
const chart=Plot.plot({
  width:477,height:458,marginLeft:84,marginRight:4,marginTop:15,marginBottom:54,
  style:{fontFamily:"'Liberation Sans',Helvetica,sans-serif",background:"#fff",color:"#222",overflow:"visible"},
  x:{type:"log",domain:[.001,1],axis:null},
  y:{domain:[0,.7],axis:null},
  marks:[
    Plot.dot(rows([...ePoints,...eExtra,...eEdge]),{x:"x",y:"y",symbol:"times",r:3.4,stroke:colors[0],strokeWidth:1.3}),
    Plot.dot(rows([...muPoints,...muExtra,...muFill]),{x:"x",y:"y",symbol:"asterisk",r:3.5,stroke:colors[1],strokeWidth:1.4}),
    Plot.dot(rows([...tauPoints,...tauExtra,...tauFill]),{x:"x",y:"y",symbol:"plus",r:3.6,stroke:colors[2],strokeWidth:1.1}),
    Plot.dot([legendX],{x:d=>d,y:()=>legendY[0],symbol:"times",r:2.8,stroke:colors[0],strokeWidth:1.2}),
    Plot.dot([legendX],{x:d=>d,y:()=>legendY[1],symbol:"asterisk",r:3,stroke:colors[1],strokeWidth:1.3}),
    Plot.dot([legendX],{x:d=>d,y:()=>legendY[2],symbol:"plus",r:3,stroke:colors[2],strokeWidth:1}),
    Plot.axisX(majorX,{anchor:"bottom",tickSize:-6,tickFormat:null,text:null,label:null,strokeWidth:1.3,stroke:"#000"}),
    Plot.axisX(minorX,{anchor:"bottom",tickSize:-3,tickFormat:null,text:null,label:null,strokeWidth:1.3,stroke:"#000"}),
    Plot.axisX(majorX,{anchor:"top",tickSize:-6,tickFormat:null,text:null,label:null,strokeWidth:1.3,stroke:"#000"}),
    Plot.axisX(minorX,{anchor:"top",tickSize:-3,tickFormat:null,text:null,label:null,strokeWidth:1.3,stroke:"#000"}),
    Plot.axisY(yTicks,{anchor:"left",tickSize:-6,tickFormat:null,text:null,label:null,strokeWidth:1.3,stroke:"#000"}),
    Plot.axisY(yTicks,{anchor:"right",tickSize:-6,tickFormat:null,text:null,label:null,strokeWidth:1.3,stroke:"#000"}),
    Plot.axisX(majorX,{anchor:"bottom",tickSize:0,tickPadding:10,tickFormat:d=>String(d),label:null,fontSize:16}),
    Plot.axisY(yTicks,{anchor:"left",tickSize:0,tickPadding:10,tickFormat:d=>String(d),label:null,fontSize:16}),
    Plot.frame({stroke:"#000",strokeWidth:1.8})
  ]
});
const svg=d3.select(chart.tagName==="svg"?chart:chart.querySelector("svg"));
const sans="'Liberation Sans',Helvetica,sans-serif",serif="'Liberation Serif',serif";
svg.append("text").attr("x",367).attr("y",34).attr("text-anchor","middle").attr("font-family",sans).attr("font-size",16).attr("fill","#222").text("normal hierarchy");
legendNames.forEach((n,i)=>{
  const [a,b]=n.split(" ");
  const t=svg.append("text").attr("x",399).attr("y",[51,68,84][i]).attr("text-anchor","end").attr("font-size",16).attr("fill","#222");
  t.append("tspan").attr("font-family",i?serif:sans).text(a);
  t.append("tspan").attr("font-family",serif).attr("dx",4).text(b);
});
const xl=svg.append("text").attr("x",279).attr("y",450).attr("text-anchor","middle").attr("font-family",sans).attr("font-size",16).attr("fill","#222");
xl.append("tspan").text("m");
xl.append("tspan").attr("font-size",12).attr("dy",4).attr("font-family",serif).text("ν");
xl.append("tspan").attr("font-size",12).text("1");
xl.append("tspan").attr("dy",-4).attr("dx",9).text("[eV]");
const yl=svg.append("text").attr("transform","translate(24,209) rotate(-90)").attr("text-anchor","middle").attr("font-family",sans).attr("font-size",16).attr("fill","#222");
yl.append("tspan").text("H");
yl.append("tspan").attr("font-size",12).attr("dy",-6).text("+");
yl.append("tspan").attr("dy",6).text(" branching fraction");
document.getElementById("c").append(chart);
</script></body></html>
